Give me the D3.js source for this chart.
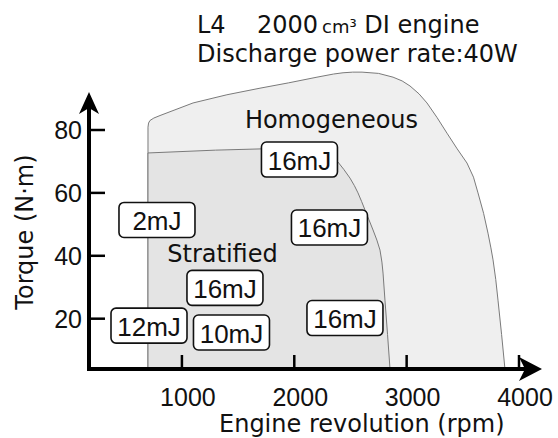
<!DOCTYPE html>
<html>
<head>
<meta charset="utf-8">
<script src="https://cdn.jsdelivr.net/npm/d3@7"></script>
<style>
  body { margin: 0; background: #fff; }
  svg { display: block; }
  .lbl { font-family: "DejaVu Sans", sans-serif; font-size: 24px; fill: #111; }
  .num { font-family: "Liberation Sans", Arial, sans-serif; font-size: 25px; fill: #111; }
  .box text { font-family: "Liberation Sans", Arial, sans-serif; font-size: 26px; fill: #111; }
</style>
</head>
<body>
<svg width="558" height="438"></svg>
<script>
// engine map outlines, [rpm, N·m]
const homogeneous = [
  [698, 4], [698, 80.9], [703, 82.2], [715, 83], [750, 83.8], [805, 84.6],
  [1099, 88.6], [1400, 91.2], [1695, 93.3], [1950, 95], [2202, 96.8],
  [2350, 97.8], [2434, 98.2], [2520, 98.4], [2603, 98.4], [2750, 98],
  [2879, 96.8], [2960, 95.6], [3030, 94], [3110, 91.5], [3181, 88.6],
  [3270, 84], [3359, 79], [3450, 74], [3537, 69.5], [3595, 65], [3635, 60],
  [3685, 53.5], [3724, 47.2], [3750, 42.5], [3769, 38.7], [3793, 32.5],
  [3813, 25.9], [3845, 15], [3875, 4],
];
const stratified = [
  [698, 4], [698, 72.7], [1300, 73.6], [1713, 74], [2000, 74.4], [2200, 74.2],
  [2300, 72.8], [2380, 70.2], [2440, 67.5], [2496, 64.7], [2535, 62.3],
  [2567, 60], [2600, 57.2], [2629, 54.6], [2665, 51.4], [2701, 48.2],
  [2735, 45], [2763, 41.8], [2780, 38], [2790, 34.5], [2807, 25.9],
  [2830, 15], [2852, 4],
];

// ignition energy labels
const energies = [
  { text: '2mJ', rpm: 778, nm: 51.4 },
  { text: '16mJ', rpm: 2046, nm: 70.6 },
  { text: '16mJ', rpm: 2313, nm: 49 },
  { text: '16mJ', rpm: 1383, nm: 29.8 },
  { text: '12mJ', rpm: 707, nm: 17.8 },
  { text: '10mJ', rpm: 1441, nm: 15.6 },
  { text: '16mJ', rpm: 2451, nm: 20.2 },
];
const regionNames = [
  { text: 'Homogeneous', rpm: 2331, nm: 80.6 },
  { text: 'Stratified', rpm: 1361, nm: 38 },
];

const xTicks = [1000, 2000, 3000, 4000];
const yTicks = [20, 40, 60, 80];

const svg = d3.select('svg');

const x = d3.scaleLinear().domain([173, 4000]).range([89, 519]);
const y = d3.scaleLinear().domain([4, 80]).range([369, 130]);
const x0 = x(173);
const y0 = y(4);

const area = d3.line()
  .x(d => x(d[0]))
  .y(d => y(d[1]));

svg.append('path')
  .attr('d', area(homogeneous) + 'Z')
  .attr('fill', '#efefef')
  .attr('stroke', '#7a7a7a')
  .attr('stroke-width', 1)
  .attr('stroke-linejoin', 'round');

svg.append('path')
  .attr('d', area(stratified) + 'Z')
  .attr('fill', '#e4e4e4')
  .attr('stroke', '#7a7a7a')
  .attr('stroke-width', 1)
  .attr('stroke-linejoin', 'round');

// axes: ticks point inwards, labels outside
const gx = svg.append('g').attr('class', 'x-ticks');
gx.selectAll('line')
  .data(xTicks)
  .enter()
  .append('line')
  .attr('x1', d => x(d)).attr('x2', d => x(d))
  .attr('y1', y0).attr('y2', y0 - 14)
  .attr('stroke', '#000').attr('stroke-width', 2.5);
gx.selectAll('text')
  .data(xTicks)
  .enter()
  .append('text')
  .attr('class', 'num')
  .attr('x', d => x(d) + 6)
  .attr('y', y0 + 37)
  .attr('text-anchor', 'middle')
  .text(d => d);

const gy = svg.append('g').attr('class', 'y-ticks');
gy.selectAll('line')
  .data(yTicks)
  .enter()
  .append('line')
  .attr('x1', x0).attr('x2', x0 + 16)
  .attr('y1', d => y(d)).attr('y2', d => y(d))
  .attr('stroke', '#000').attr('stroke-width', 2.5);
gy.selectAll('text')
  .data(yTicks)
  .enter()
  .append('text')
  .attr('class', 'num')
  .attr('x', x0 - 7)
  .attr('y', d => y(d) + 9)
  .attr('text-anchor', 'end')
  .text(d => d);

svg.append('line')
  .attr('x1', x0 - 2).attr('x2', 530)
  .attr('y1', y0).attr('y2', y0)
  .attr('stroke', '#000').attr('stroke-width', 4);
svg.append('line')
  .attr('x1', x0).attr('x2', x0)
  .attr('y1', y0 + 2).attr('y2', 104)
  .attr('stroke', '#000').attr('stroke-width', 4);

svg.append('path')
  .attr('d', `M542,${y0}L519,${y0 - 12}L525,${y0}L519,${y0 + 12}Z`)
  .attr('fill', '#000');
svg.append('path')
  .attr('d', `M${x0},92L${x0 - 10},114L${x0},108L${x0 + 10},114Z`)
  .attr('fill', '#000');

// region names
svg.selectAll('.region')
  .data(regionNames)
  .enter()
  .append('text')
  .attr('class', 'lbl region')
  .attr('x', d => x(d.rpm))
  .attr('y', d => y(d.nm))
  .attr('text-anchor', 'middle')
  .text(d => d.text);

// energy boxes
const box = svg.selectAll('.box')
  .data(energies)
  .enter()
  .append('g')
  .attr('class', 'box')
  .attr('transform', d => `translate(${x(d.rpm)},${y(d.nm)})`);

box.append('rect')
  .attr('x', -38).attr('y', -17.5)
  .attr('width', 76).attr('height', 35)
  .attr('rx', 5)
  .attr('fill', '#fff')
  .attr('stroke', '#111')
  .attr('stroke-width', 1.6);

box.append('text')
  .attr('text-anchor', 'middle')
  .attr('y', 10)
  .text(d => d.text);

// titles
const t1 = svg.append('text').attr('class', 'lbl').attr('x', 197).attr('y', 33);
t1.append('tspan').text('L4');
t1.append('tspan').attr('x', 257).text('2000');
t1.append('tspan').attr('dx', 4).style('font-size', '18px').text('cm³');
t1.append('tspan').text(' DI engine');

svg.append('text')
  .attr('class', 'lbl')
  .attr('x', 197).attr('y', 62)
  .text('Discharge power rate:40W');

svg.append('text')
  .attr('class', 'lbl')
  .attr('x', 219).attr('y', 432)
  .text('Engine revolution (rpm)');

svg.append('text')
  .attr('class', 'lbl')
  .attr('transform', 'translate(33,232) rotate(-90)')
  .attr('text-anchor', 'middle')
  .text('Torque (N·m)');
</script>
</body>
</html>
